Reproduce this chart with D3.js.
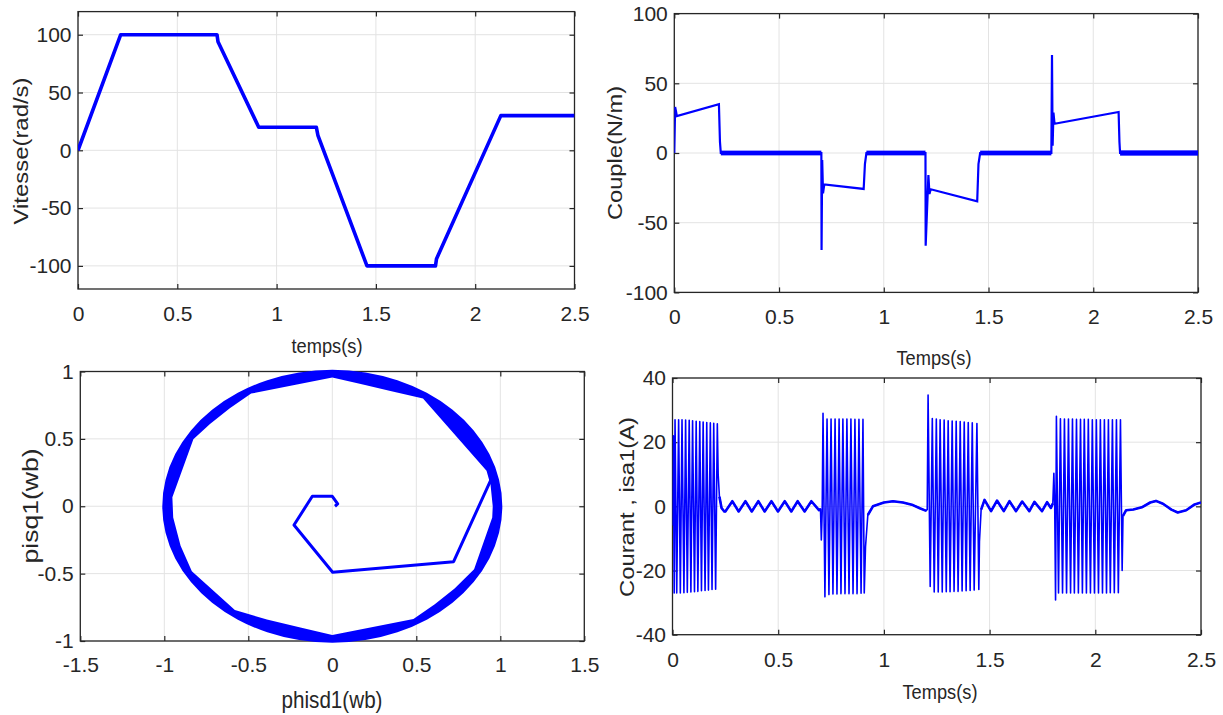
<!DOCTYPE html>
<html>
<head>
<meta charset="utf-8">
<script src="https://cdn.jsdelivr.net/npm/d3@7"></script>
<style>
body { margin: 0; background: #fff; }
svg { font-family: "Liberation Sans", Arial, sans-serif; }
text { fill: #262626; }
</style>
</head>
<body>
<div id="chart-area"></div>
<script>
// ---- data ----
// vitesse (rad/s) vs temps (s)
var speedT = [0, 0.215, 0.70, 0.705, 0.91, 1.20, 1.208, 1.455, 1.80, 1.805, 2.129, 2.5];
var speedW = [0, 100, 100, 94, 20, 20, 13, -100, -100, -94, 30, 30];

// couple (N/m) vs temps (s)
var torqueT = [0, 0.004, 0.008, 0.012, 0.213, 0.218, 0.222, 0.702, 0.703, 0.706, 0.710, 0.716, 0.904, 0.910, 0.917,
               1.199, 1.200, 1.213, 1.218, 1.224, 1.446, 1.452, 1.46, 1.800, 1.803, 1.806, 1.810, 1.815, 2.121, 2.125, 2.128, 2.5];
var torqueC = [0, 33, 30, 26.5, 35, 8, 0, 0, -69.6, -5, -29, -22.5, -25.8, -8, 0,
               0, -66.5, -15.8, -29.4, -26, -34.7, -8, 0, 0, 70.3, 5.3, 29, 21, 29.4, 8, 0, 0];
// ripple band around zero (start, end, half width in N/m)
var bandStart = [0.222, 0.917, 1.46, 2.128];
var bandEnd   = [0.702, 1.199, 1.80, 2.5];
var bandHalf  = [1.7, 1.7, 1.7, 1.9];

// flux trajectory: start-up path
var fluxStartD = [0.016, 0.032, 0.0, -0.119, -0.228, 0.002, 0.722, 0.952];
var fluxStartQ = [0.0, 0.017, 0.074, 0.074, -0.139, -0.49, -0.411, 0.218];
// flux ring: outer radius and inner boundary
var ringOuter = 1.012;
var ringInnerD = [0.955, 0.942, 0.918, 0.54, 0.346, 0.176, 0, -0.483, -0.61, -0.728, -0.827, -0.952, -0.947, -0.903, -0.836,
                  -0.58, -0.389, -0.19, 0, 0.483, 0.61, 0.728, 0.844, 0.952];
var ringInnerQ = [0, 0.158, 0.264, 0.80, 0.856, 0.905, 0.955, 0.836, 0.728, 0.61, 0.497, 0.067, -0.083, -0.293, -0.483,
                  -0.77, -0.84, -0.9, -0.955, -0.836, -0.728, -0.61, -0.468, -0.084];

// courant isa1 (A) vs temps (s): extremes
var currentT = [0, 0.004, 0.008, 0.012, 0.020, 0.029, 0.037, 0.045, 0.054, 0.062, 0.070, 0.079, 0.087, 0.095, 0.104, 0.112,
  0.120, 0.129, 0.137, 0.145, 0.154, 0.162, 0.170, 0.179, 0.187, 0.195, 0.204, 0.212, 0.216, 0.222, 0.232, 0.245,
  0.250, 0.283, 0.313, 0.345, 0.375, 0.406, 0.436, 0.468, 0.499, 0.531, 0.562, 0.592, 0.625, 0.657, 0.693, 0.700, 0.704, 0.708,
  0.712, 0.721, 0.731, 0.740, 0.750, 0.759, 0.769, 0.778, 0.788, 0.797, 0.806, 0.816, 0.825, 0.835, 0.844, 0.854, 0.863, 0.873,
  0.882, 0.892, 0.901, 0.907, 0.913, 0.924, 0.948, 1.0, 1.043, 1.09, 1.137, 1.17, 1.2,
  1.205, 1.209, 1.219, 1.229, 1.238, 1.248, 1.257, 1.266, 1.276, 1.285, 1.295, 1.304, 1.313, 1.323, 1.332, 1.342, 1.351, 1.361,
  1.370, 1.380, 1.389, 1.399, 1.408, 1.418, 1.427, 1.440, 1.449, 1.452, 1.460, 1.476,
  1.507, 1.535, 1.567, 1.594, 1.625, 1.654, 1.688, 1.712, 1.748, 1.772, 1.790, 1.799, 1.804, 1.808,
  1.812, 1.816, 1.826, 1.835, 1.845, 1.854, 1.864, 1.873, 1.883, 1.892, 1.901, 1.911, 1.920, 1.930, 1.939, 1.948, 1.958, 1.967,
  1.977, 1.986, 1.996, 2.005, 2.015, 2.024, 2.034, 2.043, 2.053, 2.062, 2.071, 2.081, 2.090, 2.100, 2.109, 2.119, 2.127,
  2.131, 2.146, 2.18, 2.22, 2.26, 2.287, 2.32, 2.36, 2.390, 2.43, 2.47, 2.5];
var currentI = [-6, 22, -27, 27, -27, 27, -27, 27, -26.9, 26.9, -26.8, 26.8, -26.7, 26.7, -26.6, 26.5,
  -26.5, 26.4, -26.3, 26.3, -26.2, 26.1, -26.1, 26, -25.9, 25.9, -25.8, 25.7, 10, 3, -0.5, -1.6,
  -1.6, 1.6, -1.6, 1.6, -1.6, 1.6, -1.6, 1.6, -1.6, 1.6, -1.6, 1.6, -1.6, 1.6, -1.2, -0.8, -10.5, -2,
  29, -28.2, 27.2, -27.5, 27.2, -27.3, 27.2, -27.3, 27.2, -27.2, 27.2, -27.2, 27.2, -27.2, 27.2, -27.2, 27.1, -27.2,
  27.1, -27.1, 27.1, -27, -12.6, -2.7, 0, 1.2, 1.6, 1.2, 0.4, -0.6, -1.4,
  -1, 34.7, -25, 27.4, -26.7, 27.2, -26.7, 27, -26.7, 26.9, -26.6, 26.7, -26.6, 26.6, -26.5, 26.5, -26.5, 26.4,
  -26.4, 26.3, -26.3, 26.1, -26.2, 26, -26.1, 25.8, -25.9, -11, -1, 2,
  -1.5, 1.8, -1.5, 1.6, -1.5, 1.5, -1.5, 1.4, -1.5, 1.3, -0.5, 0.9, 10.3, 0,
  -29.2, 28.1, -27, 27.3, -27, 27.2, -27, 27.2, -27, 27.2, -27, 27.1, -27, 27.1, -27, 27.1, -27, 27.1,
  -27, 27, -27, 27, -27, 27, -27, 27, -27, 27, -26.9, 27, -26.9, 27, -26.9, 27, -20,
  -3, -1.2, -1.0, -0.3, 1.2, 1.7, 0.8, -1, -1.9, -1.2, 0.6, 1.2];
// quiet (low current) stretches between the bursts
var quietStart = [0.222, 0.924, 1.460, 2.131];
var quietEnd   = [0.700, 1.200, 1.799, 2.5];

// tick values
var timeTicks = [0, 0.5, 1, 1.5, 2, 2.5];
var speedTicks = [-100, -50, 0, 50, 100];
var torqueTicks = [-100, -50, 0, 50, 100];
var fluxDTicks = [-1.5, -1, -0.5, 0, 0.5, 1, 1.5];
var fluxQTicks = [-1, -0.5, 0, 0.5, 1];
var currentTicks = [-40, -20, 0, 20, 40];

// ---- drawing ----
var svg = d3.select("#chart-area").append("svg")
    .attr("width", 1223)
    .attr("height", 715);

var fmt = (d) => String(d);
var blue = "#0000ff";
var narrow = "'Liberation Sans Narrow', 'Arial Narrow', 'Liberation Sans', Arial, sans-serif";

function panel(p) {
    var g = svg.append("g");
    var x = d3.scaleLinear().domain(p.xDomain).range([p.left, p.right]);
    var y = d3.scaleLinear().domain(p.yDomain).range([p.bottom, p.top]);

    // grid
    g.selectAll(".gx").data(p.xTicks).enter().append("line")
        .attr("x1", (d) => x(d)).attr("x2", (d) => x(d))
        .attr("y1", p.top).attr("y2", p.bottom)
        .attr("stroke", "#e3e3e3").attr("stroke-width", 1);
    g.selectAll(".gy").data(p.yTicks).enter().append("line")
        .attr("x1", p.left).attr("x2", p.right)
        .attr("y1", (d) => y(d)).attr("y2", (d) => y(d))
        .attr("stroke", "#e3e3e3").attr("stroke-width", 1);

    // axes, MATLAB style ticks inside on all four sides
    var axes = [
        [d3.axisBottom(x).tickValues(p.xTicks).tickFormat(fmt).tickPadding(p.xPad), "translate(0," + p.bottom + ")"],
        [d3.axisTop(x).tickValues(p.xTicks).tickFormat(""), "translate(0," + p.top + ")"],
        [d3.axisLeft(y).tickValues(p.yTicks).tickFormat(fmt).tickPadding(6.5), "translate(" + p.left + ",0)"],
        [d3.axisRight(y).tickValues(p.yTicks).tickFormat(""), "translate(" + p.right + ",0)"]
    ];
    axes.forEach((a) => {
        var ag = g.append("g").attr("transform", a[1])
            .call(a[0].tickSize(-5))
            .attr("color", "#262626");
        ag.selectAll("text").style("font-family", narrow).style("font-size", "21px");
        ag.select(".domain").remove();
        ag.selectAll("line").attr("stroke-width", 1.2);
    });

    g.append("rect")
        .attr("x", p.left).attr("y", p.top)
        .attr("width", p.right - p.left).attr("height", p.bottom - p.top)
        .attr("fill", "none").attr("stroke", "#262626").attr("stroke-width", 1.3);

    svg.append("clipPath").attr("id", "clip" + p.id).append("rect")
        .attr("x", p.left).attr("y", p.top - 3)
        .attr("width", p.right - p.left).attr("height", p.bottom - p.top + 6);
    var plot = g.append("g").attr("clip-path", "url(#clip" + p.id + ")");

    // titles
    g.append("text")
        .attr("x", p.xt[0]).attr("y", p.xt[1])
        .attr("text-anchor", "middle")
        .style("font-size", p.xt[2] + "px")
        .style("font-family", narrow)
        .attr("textLength", p.xt[3])
        .attr("lengthAdjust", "spacingAndGlyphs")
        .text(p.xTitle);
    g.append("text")
        .attr("transform", "translate(" + p.yt[0] + "," + p.yt[1] + ") rotate(-90)")
        .attr("text-anchor", "middle")
        .attr("dy", "0.35em")
        .style("font-size", p.yt[2] + "px")
        .attr("textLength", p.yt[3])
        .attr("lengthAdjust", "spacingAndGlyphs")
        .text(p.yTitle);

    return { x: x, y: y, plot: plot };
}

// 1) vitesse
var p1 = panel({ id: 1, left: 78, right: 574.5, top: 11.6, bottom: 289,
    xDomain: [0, 2.5], yDomain: [-120, 120], xTicks: timeTicks, yTicks: speedTicks, xPad: 17,
    xTitle: "temps(s)", xt: [327, 353, 21, 71], yTitle: "Vitesse(rad/s)", yt: [21, 151, 20, 147] });
p1.plot.append("path")
    .datum(d3.zip(speedT, speedW))
    .attr("d", d3.line().x((d) => p1.x(d[0])).y((d) => p1.y(d[1])))
    .attr("fill", "none").attr("stroke", blue).attr("stroke-width", 3.6)
    .attr("stroke-linejoin", "round");

// 2) couple
var p2 = panel({ id: 2, left: 674.3, right: 1198, top: 13.6, bottom: 292.4,
    xDomain: [0, 2.5], yDomain: [-100, 100], xTicks: timeTicks, yTicks: torqueTicks, xPad: 16.6,
    xTitle: "Temps(s)", xt: [934, 365, 21, 75], yTitle: "Couple(N/m)", yt: [615, 153, 20, 134] });
p2.plot.selectAll(".band").data(d3.range(bandStart.length)).enter().append("rect")
    .attr("x", (i) => p2.x(bandStart[i]))
    .attr("width", (i) => p2.x(bandEnd[i]) - p2.x(bandStart[i]))
    .attr("y", (i) => p2.y(bandHalf[i]))
    .attr("height", (i) => p2.y(-bandHalf[i]) - p2.y(bandHalf[i]))
    .attr("fill", blue);
p2.plot.append("path")
    .datum(d3.zip(torqueT, torqueC))
    .attr("d", d3.line().x((d) => p2.x(d[0])).y((d) => p2.y(d[1])))
    .attr("fill", "none").attr("stroke", blue).attr("stroke-width", 2.2);

// 3) flux
var p3 = panel({ id: 3, left: 80.3, right: 584.3, top: 371.5, bottom: 641,
    xDomain: [-1.5, 1.5], yDomain: [-1, 1], xTicks: fluxDTicks, yTicks: fluxQTicks, xPad: 16.2,
    xTitle: "phisd1(wb)", xt: [332, 708, 24, 101], yTitle: "pisq1(wb)", yt: [30, 506, 22, 115] });
var rx = p3.x(ringOuter) - p3.x(0), ry = p3.y(0) - p3.y(ringOuter);
var ringPath = "M" + p3.x(ringOuter) + "," + p3.y(0) +
    "A" + rx + "," + ry + " 0 1 0 " + p3.x(-ringOuter) + "," + p3.y(0) +
    "A" + rx + "," + ry + " 0 1 0 " + p3.x(ringOuter) + "," + p3.y(0) + "Z" +
    d3.line().x((d) => p3.x(d[0])).y((d) => p3.y(d[1])).curve(d3.curveLinearClosed)(d3.zip(ringInnerD, ringInnerQ));
svg.append("path")
    .attr("d", ringPath)
    .attr("fill", blue).attr("fill-rule", "evenodd");
svg.append("path")
    .datum(d3.zip(fluxStartD, fluxStartQ))
    .attr("d", d3.line().x((d) => p3.x(d[0])).y((d) => p3.y(d[1])))
    .attr("fill", "none").attr("stroke", blue).attr("stroke-width", 3)
    .attr("stroke-linejoin", "round");

// 4) courant
var p4 = panel({ id: 4, left: 672.5, right: 1201, top: 378, bottom: 634.7,
    xDomain: [0, 2.5], yDomain: [-40, 40], xTicks: timeTicks, yTicks: currentTicks, xPad: 17.4,
    xTitle: "Temps(s)", xt: [940, 699, 21, 75], yTitle: "Courant , isa1(A)", yt: [627, 507, 20, 180] });
var currentLine = d3.line().x((d) => p4.x(d[0])).y((d) => p4.y(d[1]));
var currentPts = d3.zip(currentT, currentI);
p4.plot.append("path")
    .datum(currentPts)
    .attr("d", currentLine)
    .attr("fill", "none").attr("stroke", blue).attr("stroke-width", 1.6)
    .attr("stroke-linejoin", "round");
p4.plot.selectAll(".quiet").data(d3.range(quietStart.length)).enter().append("path")
    .attr("d", (i) => currentLine(currentPts.filter((d) => d[0] >= quietStart[i] && d[0] <= quietEnd[i])))
    .attr("fill", "none").attr("stroke", blue).attr("stroke-width", 2.6)
    .attr("stroke-linejoin", "round");
</script>
</body>
</html>
